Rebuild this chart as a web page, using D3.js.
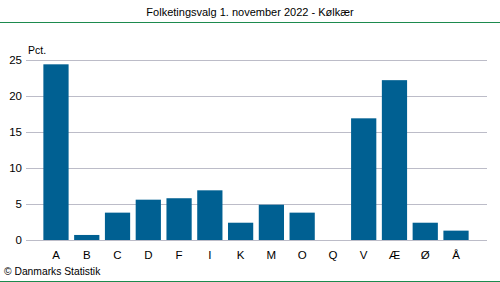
<!DOCTYPE html>
<html>
<head>
<meta charset="utf-8">
<script src="https://cdn.jsdelivr.net/npm/d3@7"></script>
<style>
  body { margin: 0; background: #fff; }
  text { font-family: "Liberation Sans", Arial, sans-serif; }
</style>
</head>
<body>
<script>
const parties = ['A', 'B', 'C', 'D', 'F', 'I', 'K', 'M', 'O', 'Q', 'V', 'Æ', 'Ø', 'Å']
const pct = [24.4, 0.7, 3.8, 5.6, 5.8, 6.9, 2.4, 4.9, 3.8, 0, 16.9, 22.2, 2.4, 1.3]
const yTicks = [0, 5, 10, 15, 20, 25]

const WIDTH = 500
const HEIGHT = 282

const svg = d3.select(document.body).append('svg')
  .attr('width', WIDTH)
  .attr('height', HEIGHT)

svg.append('text')
  .attr('x', 250)
  .attr('y', 16)
  .attr('text-anchor', 'middle')
  .attr('font-size', 11)
  .attr('fill', '#000')
  .text('Folketingsvalg 1. november 2022 - Kølkær')

svg.append('line')
  .attr('x1', 0).attr('x2', WIDTH)
  .attr('y1', 22.5).attr('y2', 22.5)
  .attr('stroke', '#1d8a4e').attr('stroke-width', 1)

svg.append('line')
  .attr('x1', 0).attr('x2', WIDTH)
  .attr('y1', 281.5).attr('y2', 281.5)
  .attr('stroke', '#1d8a4e').attr('stroke-width', 1)

const y = d3.scaleLinear().domain([0, 25]).range([240, 60])
const x = d3.scaleBand().domain(parties).range([40.6, 471.4]).paddingInner(0.18).paddingOuter(0.09)

// gridlines
svg.append('g')
  .selectAll('line')
  .data(yTicks)
  .enter()
  .append('line')
  .attr('x1', 26).attr('x2', 487)
  .attr('y1', d => Math.round(y(d)) + 0.5)
  .attr('y2', d => Math.round(y(d)) + 0.5)
  .attr('stroke', '#bcbcc8')
  .attr('stroke-width', 1)

svg.append('g')
  .selectAll('text')
  .data(yTicks)
  .enter()
  .append('text')
  .attr('x', 22)
  .attr('y', d => y(d) + 4)
  .attr('text-anchor', 'end')
  .attr('font-size', 11.5)
  .text(d => d)

svg.append('text')
  .attr('x', 28)
  .attr('y', 54)
  .attr('font-size', 10.5)
  .text('Pct.')

svg.append('g')
  .selectAll('rect')
  .data(pct)
  .enter()
  .append('rect')
  .attr('x', (d, i) => x(parties[i]))
  .attr('width', x.bandwidth())
  .attr('y', d => y(d))
  .attr('height', d => y(0) - y(d))
  .attr('fill', '#006092')

svg.append('g')
  .selectAll('text')
  .data(parties)
  .enter()
  .append('text')
  .attr('x', d => x(d) + x.bandwidth() / 2)
  .attr('y', 259)
  .attr('text-anchor', 'middle')
  .attr('font-size', 11.5)
  .text(d => d)

svg.append('text')
  .attr('x', 4)
  .attr('y', 275)
  .attr('font-size', 10.3)
  .text('© Danmarks Statistik')
</script>
</body>
</html>
